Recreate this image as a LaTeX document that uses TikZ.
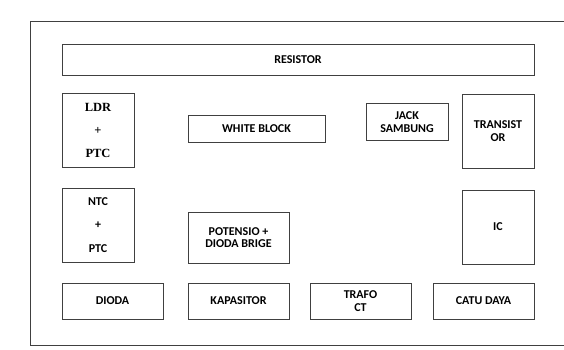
\documentclass[tikz,border=0pt]{standalone}
\usepackage{fontspec}
\setmainfont{Carlito}
\newfontfamily\timesbox{Liberation Serif}
\usetikzlibrary{positioning}

\begin{document}
\begin{tikzpicture}[x=1pt,y=-1pt,
    blok/.style={rectangle,draw=black!75,line width=0.9pt,inner sep=0pt,align=center,
        font=\fontsize{12}{12.5}\selectfont\bfseries},
    kotak/.style={blok,minimum width=72pt,minimum height=74pt},
    bawah/.style={blok,minimum width=101pt,minimum height=36pt}]
\clip (0,0) rectangle (564,350);
\fill[white] (0,0) rectangle (564,350);
\draw[black!75,line width=0.9pt] (30,21) rectangle (600,345);

\node (resistor) [blok,minimum width=472pt,minimum height=31pt] at (298,59.5) {RESISTOR};
\node (ldr) [kotak,font=\fontsize{12.5}{13}\selectfont\timesbox\bfseries] at (98,130) {LDR\\[10pt]+\\[10pt]PTC};
\node (white) [blok,minimum width=137pt,minimum height=27pt] at (256.5,128.5) {WHITE BLOCK};
\node (jack) [blok,minimum width=82pt,minimum height=37pt] at (407,122) {JACK\\SAMBUNG};
\node (transistor) [kotak] at (498,131) {TRANSIST\\OR};
\node (ntc) [kotak] at (98,225) {NTC\\[11pt]+\\[11pt]PTC};
\node (potensio) [blok,minimum width=101pt,minimum height=51pt] at (238.5,237.5) {POTENSIO +\\DIODA BRIGE};
\node (ic) [kotak] at (498,227) {IC};
\node (dioda) [bawah] at (112.5,301) {DIODA};
\node (kapasitor) [bawah] at (238.5,301) {KAPASITOR};
\node (trafo) [bawah] at (360.5,301) {TRAFO\\CT};
\node (catu) [bawah] at (483.5,301) {CATU DAYA};
\end{tikzpicture}
\end{document}
